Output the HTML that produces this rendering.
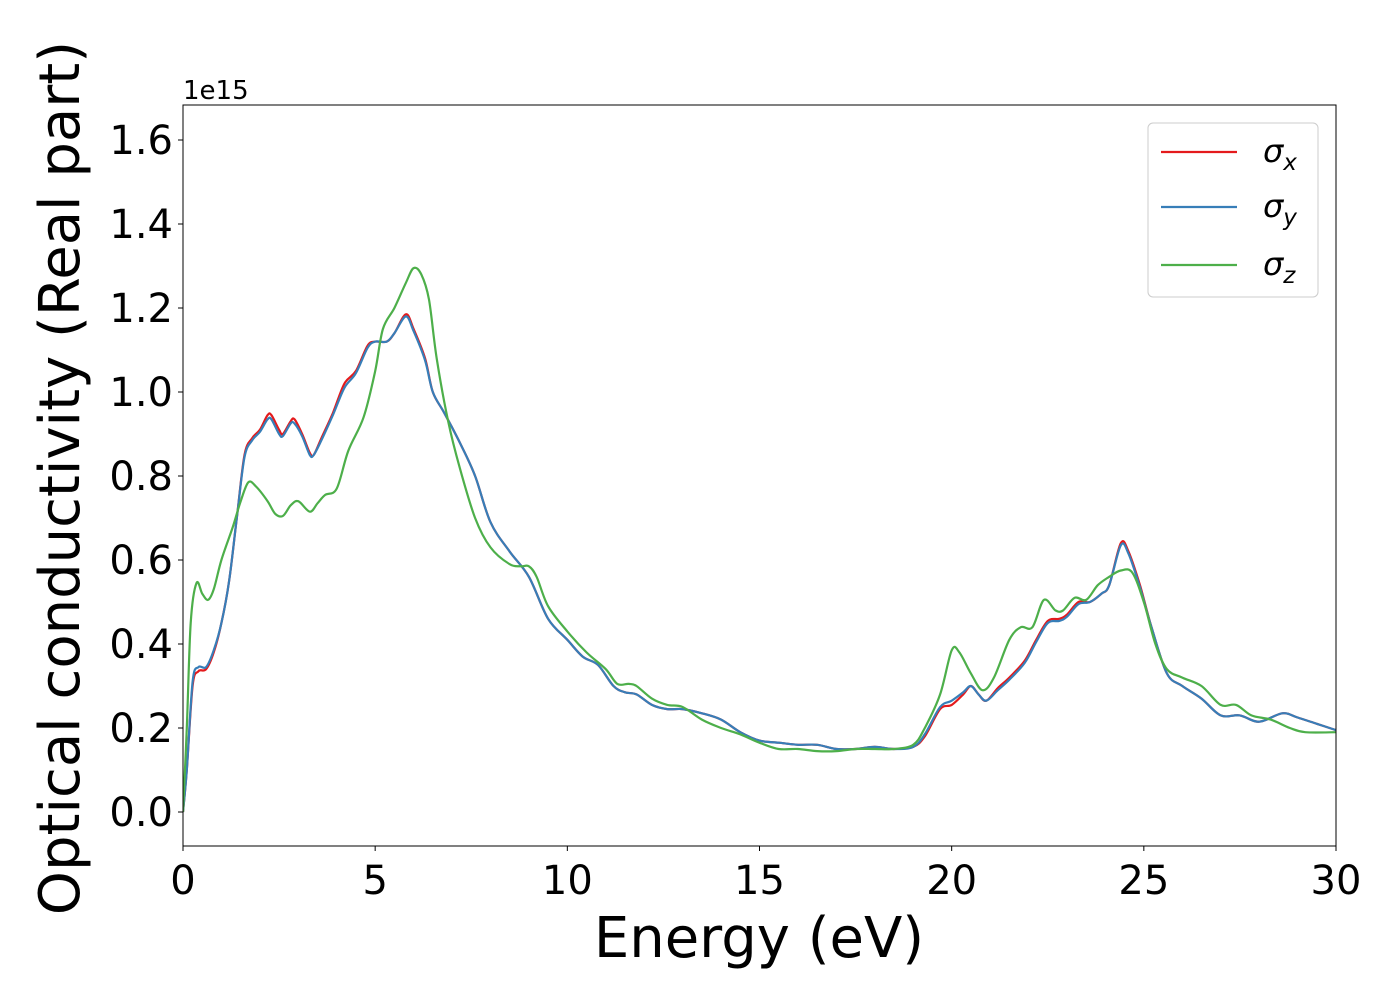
<!DOCTYPE html>
<html><head><meta charset="utf-8"><style>
html,body{margin:0;padding:0;background:#fff;}
svg{display:block;font-family:"DejaVu Sans","Liberation Sans",sans-serif;}
</style></head><body>
<svg id="chart" width="1400" height="1000" viewBox="0 0 1400 1000"></svg>
<script>
const xs_x=[0,0.1,0.25,0.4,0.6,0.8,1.0,1.2,1.4,1.6,1.8,2.0,2.2,2.3,2.5,2.6,2.8,2.9,3.1,3.3,3.4,3.6,3.9,4.2,4.5,4.8,5.0,5.3,5.5,5.8,6.0,6.3,6.5,6.8,7.2,7.6,8.0,8.5,9.0,9.5,10.0,10.4,10.8,11.2,11.5,11.8,12.2,12.6,13.0,13.5,14.0,14.5,15,15.5,16,16.5,17,17.5,18,18.5,19,19.3,19.7,20,20.3,20.5,20.7,20.9,21.2,21.5,21.9,22.2,22.5,22.8,23.0,23.3,23.6,23.9,24.1,24.4,24.6,24.9,25.2,25.6,26.0,26.5,27,27.5,28,28.6,29,29.5,30];
const sigmaX=[0,0.1,0.3,0.335,0.34,0.38,0.45,0.55,0.7,0.85,0.89,0.91,0.945,0.945,0.91,0.9,0.93,0.935,0.9,0.855,0.85,0.89,0.95,1.02,1.05,1.11,1.12,1.12,1.14,1.185,1.15,1.08,1.0,0.95,0.88,0.8,0.69,0.62,0.56,0.46,0.41,0.37,0.35,0.3,0.285,0.28,0.255,0.245,0.245,0.235,0.22,0.19,0.17,0.165,0.16,0.16,0.15,0.15,0.155,0.15,0.155,0.18,0.245,0.255,0.28,0.3,0.28,0.265,0.295,0.32,0.36,0.41,0.455,0.46,0.47,0.5,0.5,0.52,0.54,0.64,0.62,0.54,0.44,0.33,0.3,0.27,0.23,0.23,0.215,0.235,0.225,0.21,0.195];
const sigmaY=[0,0.1,0.31,0.345,0.345,0.385,0.45,0.55,0.7,0.845,0.885,0.905,0.935,0.935,0.9,0.895,0.925,0.925,0.895,0.85,0.85,0.885,0.945,1.01,1.045,1.105,1.12,1.12,1.14,1.18,1.145,1.075,1.0,0.95,0.88,0.8,0.69,0.62,0.56,0.46,0.41,0.37,0.35,0.3,0.285,0.28,0.255,0.245,0.245,0.235,0.22,0.19,0.17,0.165,0.16,0.16,0.15,0.15,0.155,0.15,0.155,0.185,0.25,0.265,0.285,0.3,0.28,0.265,0.29,0.315,0.355,0.405,0.45,0.455,0.465,0.495,0.5,0.52,0.54,0.635,0.615,0.535,0.44,0.33,0.3,0.27,0.23,0.23,0.215,0.235,0.225,0.21,0.195];
const xs_z=[0,0.1,0.2,0.35,0.5,0.65,0.8,1.0,1.3,1.5,1.7,1.9,2.2,2.4,2.6,2.8,3.0,3.3,3.5,3.7,4.0,4.3,4.7,5.0,5.2,5.5,5.8,6.0,6.2,6.4,6.6,6.9,7.2,7.6,8.0,8.5,8.8,9.0,9.2,9.5,10.0,10.5,11.0,11.3,11.6,11.8,12.2,12.6,13.0,13.5,14,14.5,15,15.5,16,16.5,17,17.5,18,18.5,19,19.3,19.7,20,20.2,20.5,20.8,21.1,21.5,21.8,22.1,22.4,22.7,22.9,23.2,23.5,23.8,24.1,24.4,24.7,25.0,25.3,25.6,26,26.5,27,27.4,27.8,28.3,28.8,29.2,30];
const sigmaZ=[0,0.2,0.45,0.545,0.52,0.505,0.53,0.6,0.68,0.74,0.785,0.775,0.74,0.71,0.705,0.73,0.74,0.715,0.735,0.755,0.77,0.86,0.94,1.05,1.15,1.2,1.26,1.295,1.28,1.22,1.08,0.93,0.82,0.7,0.63,0.59,0.585,0.585,0.56,0.49,0.43,0.38,0.34,0.305,0.305,0.3,0.27,0.255,0.25,0.22,0.2,0.185,0.165,0.15,0.15,0.145,0.145,0.15,0.15,0.15,0.16,0.2,0.28,0.385,0.38,0.33,0.29,0.32,0.41,0.44,0.44,0.505,0.48,0.48,0.51,0.505,0.54,0.56,0.575,0.57,0.5,0.4,0.34,0.32,0.3,0.255,0.255,0.23,0.22,0.2,0.19,0.19];
const xTicks=[0,5,10,15,20,25,30];
const yTicks=[0.0,0.2,0.4,0.6,0.8,1.0,1.2,1.4,1.6];
const seriesNames=["σx","σy","σz"];

const L=183,R=1336,T=105,B=846;
const X=v=>L+(v-0)/30*(R-L);
const Y=v=>812-v*420;
const svg=document.getElementById('chart');
const NS='http://www.w3.org/2000/svg';
function mk(tag,attrs,parent){const e=document.createElementNS(NS,tag);for(const k in attrs)e.setAttribute(k,attrs[k]);(parent||svg).appendChild(e);return e;}

const clip=mk('clipPath',{id:'pc'});mk('rect',{x:L,y:T,width:R-L,height:B-T},clip);

function pathD(xs,ys){
  const p=xs.map((x,i)=>[X(x),Y(ys[i])]);
  let d='M'+p[0][0].toFixed(1)+','+p[0][1].toFixed(1);
  for(let i=0;i<p.length-1;i++){
    const p0=p[Math.max(0,i-1)],p1=p[i],p2=p[i+1],p3=p[Math.min(p.length-1,i+2)];
    const c1=[p1[0]+(p2[0]-p0[0])/6,p1[1]+(p2[1]-p0[1])/6];
    const c2=[p2[0]-(p3[0]-p1[0])/6,p2[1]-(p3[1]-p1[1])/6];
    d+=' C'+c1.map(v=>v.toFixed(1))+' '+c2.map(v=>v.toFixed(1))+' '+p2.map(v=>v.toFixed(1));
  }
  return d;
}
const g=mk('g',{'clip-path':'url(#pc)'});


const sx=mk('path',{d:pathD(xs_x,sigmaX),fill:'none',stroke:'#e41a1c','stroke-width':2.2},g);


const sy=mk('path',{d:pathD(xs_x,sigmaY),fill:'none',stroke:'#377eb8','stroke-width':2.2},g);


const sz=mk('path',{d:pathD(xs_z,sigmaZ),fill:'none',stroke:'#4daf4a','stroke-width':2.2},g);



const frame=mk('rect',{x:L,y:T,width:R-L,height:B-T,fill:'none',stroke:'#000','stroke-width':1});



xTicks.forEach(t=>{
  mk('line',{x1:X(t),x2:X(t),y1:B,y2:B+5,stroke:'#000'});
  const tx=mk('text',{x:X(t),y:B+48,'font-size':40,'text-anchor':'middle'});tx.textContent=t;
  
  
});
yTicks.forEach(t=>{
  mk('line',{x1:L,x2:L-5,y1:Y(t),y2:Y(t),stroke:'#000'});
  const tx=mk('text',{x:L-10,y:Y(t)+14,'font-size':40,'text-anchor':'end'});tx.textContent=t.toFixed(1);
  
  
});
const off=mk('text',{x:183,y:99,'font-size':26});off.textContent='1e15';


const xl=mk('text',{x:759,y:957,'font-size':56,'text-anchor':'middle'});xl.textContent='Energy (eV)';


const yl=mk('text',{x:0,y:0,'font-size':56,'text-anchor':'middle',transform:'translate(79,478) rotate(-90)'});yl.textContent='Optical conductivity (Real part)';



const leg=mk('g',{});


mk('rect',{x:1148,y:123,width:170,height:174,rx:5,fill:'#fff',stroke:'#ccc','stroke-width':1},leg);
const cols=['#e41a1c','#377eb8','#4daf4a'];const subs=['x','y','z'];
[152,207,265].forEach((yy,i)=>{
  const e=mk('g',{},leg);
  
  
  mk('line',{x1:1161,x2:1237,y1:yy,y2:yy,stroke:cols[i],'stroke-width':2.2},e);
  const t=mk('text',{x:1263,y:yy+10,'font-size':32,'font-style':'italic'},e);
  t.textContent='σ';
  const s=mk('tspan',{'font-size':23,dy:8},t);s.textContent=subs[i];
});
</script>
</body></html>
